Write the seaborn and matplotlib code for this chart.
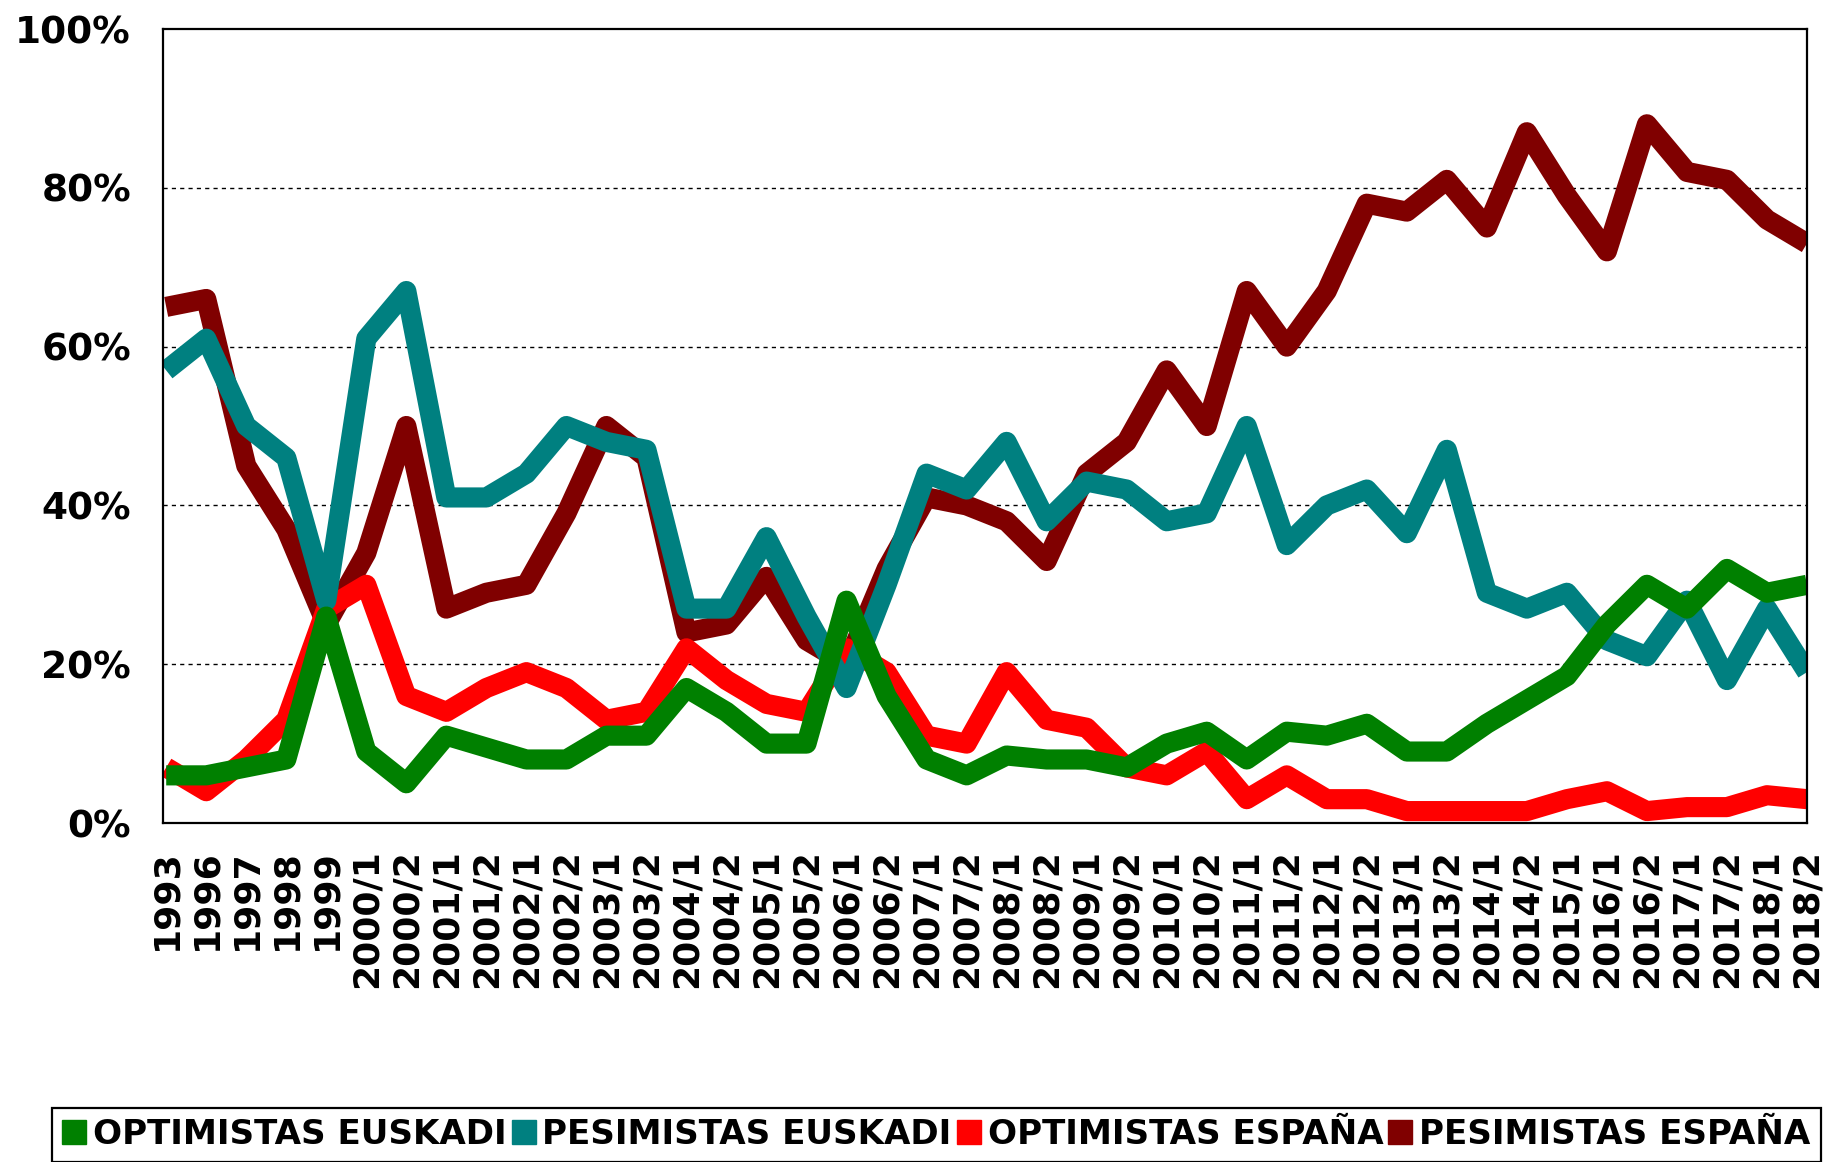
import numpy as np
import pandas as pd
import matplotlib
matplotlib.use("Agg")
import matplotlib.pyplot as plt
from matplotlib.patches import Patch
import seaborn as sns

periods = ["1993", "1996", "1997", "1998", "1999",
           "2000/1", "2000/2", "2001/1", "2001/2", "2002/1", "2002/2",
           "2003/1", "2003/2", "2004/1", "2004/2", "2005/1", "2005/2",
           "2006/1", "2006/2", "2007/1", "2007/2", "2008/1", "2008/2",
           "2009/1", "2009/2", "2010/1", "2010/2", "2011/1", "2011/2",
           "2012/1", "2012/2", "2013/1", "2013/2", "2014/1", "2014/2",
           "2015/1", "2016/1", "2016/2", "2017/1", "2017/2", "2018/1", "2018/2"]

optimistas_euskadi = [6, 6, 7, 8, 26, 9, 5, 11, 9.5, 8, 8, 11, 11, 17, 14, 10, 10, 28, 16, 8,
                      6, 8.5, 8, 8, 7, 10, 11.5, 8, 11.5, 11, 12.5, 9, 9, 12.5, 15.5, 18.5,
                      25, 30, 27, 32, 29, 30]
pesimistas_euskadi = [57, 61, 50, 46, 28, 61, 67, 41, 41, 44, 50, 48, 47, 27, 27, 36, 26, 17, 30, 44,
                      42, 48, 38, 43, 42, 38, 39, 50, 35, 40, 42, 36.5, 47, 29, 27, 29,
                      23, 21, 28, 18, 27, 19]
optimistas_espana = [7, 4, 8, 13, 27, 30, 16, 14, 17, 19, 17, 13, 14, 22, 18, 15, 14, 22, 19, 11,
                     10, 19, 13, 12, 7, 6, 9, 3, 6, 3, 3, 1.5, 1.5, 1.5, 1.5, 3,
                     4, 1.5, 2, 2, 3.5, 3]
pesimistas_espana = [65, 66, 45, 37, 25, 34, 50, 27, 29, 30, 39, 50, 46, 24, 25, 31, 23, 20, 32, 41,
                     40, 38, 33, 44, 48, 57, 50, 67, 60, 67, 78, 77, 81, 75, 87, 79,
                     72, 88, 82, 81, 76, 73]

series_names = ["OPTIMISTAS EUSKADI", "PESIMISTAS EUSKADI", "OPTIMISTAS ESPAÑA", "PESIMISTAS ESPAÑA"]
series_values = [optimistas_euskadi, pesimistas_euskadi, optimistas_espana, pesimistas_espana]
series_colors = ["#008000", "#008080", "#FF0000", "#800000"]
series_z = [6, 5, 4, 3]

y_ticks = [0, 20, 40, 60, 80, 100]
y_tick_labels = ["0%", "20%", "40%", "60%", "80%", "100%"]

plt.rcParams['font.family'] = ['DejaVu Sans']
plt.rcParams['font.weight'] = 'bold'

W, H = 1830, 1162
fig = plt.figure(figsize=(W / 100, H / 100), dpi=100)
ax = fig.add_axes([163 / W, 1 - 823 / H, (1807 - 163) / W, (823 - 29) / H])

idx = np.arange(len(periods))
for name, vals, col, z in zip(series_names, series_values, series_colors, series_z):
    df = pd.DataFrame({"x": idx, "v": vals})
    sns.lineplot(data=df, x="x", y="v", ax=ax, color=col, lw=14.5, sort=False,
                 zorder=z, solid_joinstyle="round", solid_capstyle="butt", legend=False)

ax.set_xlim(-0.08, len(periods) - 1)
ax.set_ylim(0, 100)
ax.set_xticks(idx)
ax.set_xticklabels(periods, rotation=90, fontsize=26, fontweight="bold")
ax.set_yticks(y_ticks)
ax.set_yticklabels(y_tick_labels, fontsize=27, fontweight="bold")
ax.tick_params(axis="x", length=0, pad=19)
ax.tick_params(axis="y", length=0, pad=23)
ax.set_xlabel("")
ax.set_ylabel("")
for y in y_ticks[1:-1]:
    ax.axhline(y, color="black", lw=1, ls=(0, (3, 3)), zorder=1)
for s in ax.spines.values():
    s.set_color("black")
    s.set_linewidth(1.6)
    s.set_zorder(10)

handles = [Patch(facecolor=c, edgecolor=c) for c in series_colors]
leg = fig.legend(handles, series_names, loc="upper left",
                 bbox_to_anchor=(52 / W, 1 - 1108 / H), ncol=4,
                 prop={"size": 24.6, "weight": "bold"},
                 frameon=True, fancybox=False, framealpha=1, edgecolor="black",
                 handlelength=0.7, handleheight=0.7, handletextpad=0.2,
                 columnspacing=0.15, borderpad=0.3, borderaxespad=0)
leg.get_frame().set_linewidth(1.6)

fig.savefig("out.png", dpi=100)
